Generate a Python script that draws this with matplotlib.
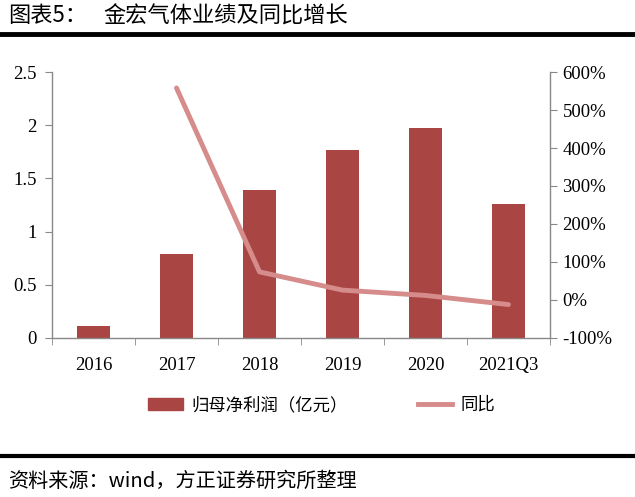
import matplotlib
matplotlib.use("Agg")
import matplotlib.pyplot as plt
from matplotlib.ticker import FuncFormatter
from matplotlib.lines import Line2D

categories = ["2016", "2017", "2018", "2019", "2020", "2021Q3"]
profit = [0.11, 0.79, 1.39, 1.77, 1.97, 1.26]
yoy_cats = ["2017", "2018", "2019", "2020", "2021Q3"]
yoy = [5.58, 0.74, 0.26, 0.12, -0.12]

left_ticks = [0, 0.5, 1, 1.5, 2, 2.5]
left_labels = ["0", "0.5", "1", "1.5", "2", "2.5"]
right_ticks = [-1, 0, 1, 2, 3, 4, 5, 6]

cjk = ["Noto Sans CJK SC", "DejaVu Sans"]
serif = "Liberation Serif"
bar_color = "#A94644"
line_color = "#D58C8A"
grey = "#898989"
fs = 13.5

fig = plt.figure(figsize=(6.35, 4.97), dpi=100)
ax = fig.add_axes([52/635, 1-338/497, (550-52)/635, (338-72)/497])
x = list(range(len(categories)))
ax.bar(x, profit, width=0.4, color=bar_color, zorder=2)
ax.set_xlim(-0.5, len(categories)-0.5)
ax.set_ylim(0, 2.5)
ax.set_yticks(left_ticks)
ax.set_yticklabels(left_labels, fontfamily=serif, fontsize=fs)
ax.set_xticks(x)
ax.set_xticklabels(categories, fontfamily=serif, fontsize=fs)
ax.set_xticks([i-0.5 for i in range(len(categories)+1)], minor=True)
ax.tick_params(axis="x", which="major", length=0, pad=14)
ax.tick_params(axis="x", which="minor", length=5, color=grey, direction="out")
ax.tick_params(axis="y", length=5, color=grey, direction="out", pad=6)
for s in ["top", "right"]:
    ax.spines[s].set_visible(False)
for s in ["left", "bottom"]:
    ax.spines[s].set_color(grey)
    ax.spines[s].set_linewidth(1.0)

ax2 = ax.twinx()
xi = [categories.index(c) for c in yoy_cats]
ax2.plot(xi, yoy, color=line_color, lw=3.5, solid_joinstyle="round", solid_capstyle="round", zorder=3)
ax2.set_ylim(-1, 6)
ax2.set_yticks(right_ticks)
ax2.yaxis.set_major_formatter(FuncFormatter(lambda v, p: f"{int(round(v*100))}%"))
for lab in ax2.get_yticklabels():
    lab.set_fontfamily(serif)
    lab.set_fontsize(fs)
ax2.tick_params(axis="y", length=5, color=grey, direction="out", pad=4)
for s in ["top", "left", "bottom"]:
    ax2.spines[s].set_visible(False)
ax2.spines["right"].set_color(grey)
ax2.spines["right"].set_linewidth(1.0)

handles = [plt.Rectangle((0, 0), 1, 1, color=bar_color),
           Line2D([0], [0], color=line_color, lw=3.5)]
fig.legend(handles, ["归母净利润（亿元）", "同比"], loc="center", bbox_to_anchor=(322/635, 1-405/497),
           ncol=2, frameon=False, prop={"family": cjk, "size": 12.5}, handlelength=2.0,
           handletextpad=0.5, columnspacing=4.0)

fig.text(8/635, 1-16/497, "图表5：", fontfamily=cjk, fontsize=16,
         ha="left", va="center")
fig.text(103/635, 1-16/497, "金宏气体业绩及同比增长", fontfamily=cjk, fontsize=16,
         ha="left", va="center")
fig.add_artist(Line2D([0, 1], [1-34/497, 1-34/497], color="black", lw=3.5, transform=fig.transFigure))
fig.add_artist(Line2D([0, 1], [1-456/497, 1-456/497], color="black", lw=3, transform=fig.transFigure))
fig.text(8/635, 1-481/497, "资料来源：wind，方正证券研究所整理", fontfamily=cjk, fontsize=14.5,
         ha="left", va="center", style="italic")

fig.savefig("out.png", dpi=100)
